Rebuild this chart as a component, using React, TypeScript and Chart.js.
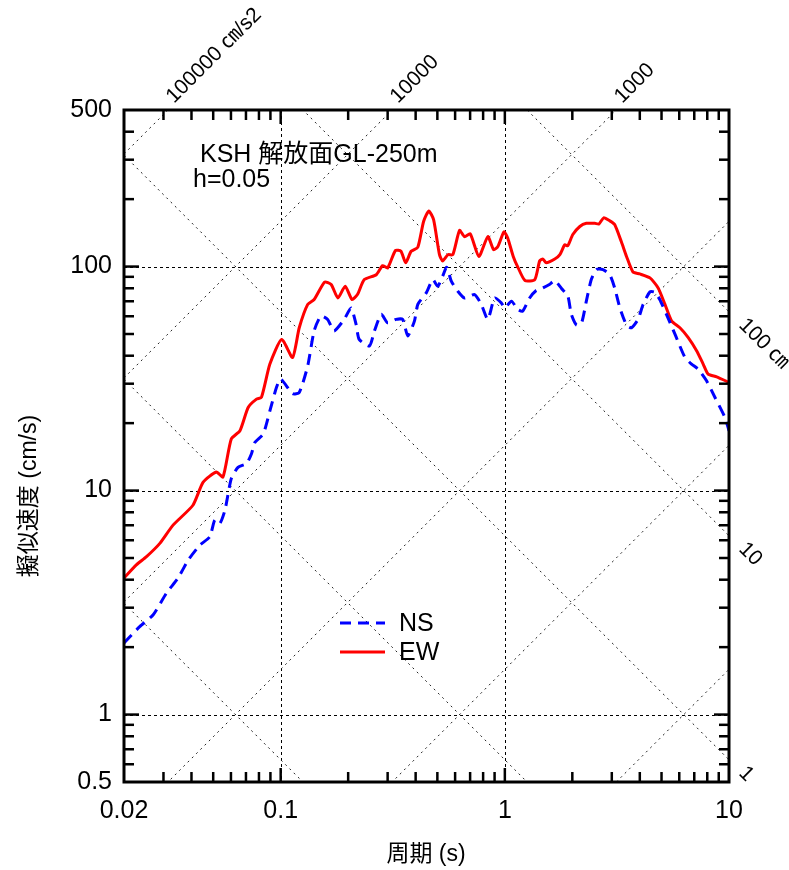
import React, { useEffect, useRef } from "react";
import { Chart, registerables } from "chart.js";

Chart.register(...registerables);

// ---- data ----
const PERIOD_NS = [0.02, 0.0235, 0.027, 0.0309, 0.0348, 0.0387, 0.0436, 0.0483, 0.0508, 0.0535, 0.0564, 0.0602, 0.0645, 0.0704, 0.0741, 0.0767, 0.0836, 0.0895, 0.0958, 0.1, 0.113, 0.121, 0.132, 0.141, 0.151, 0.162, 0.173, 0.192, 0.206, 0.217, 0.224, 0.249, 0.262, 0.281, 0.3, 0.327, 0.35, 0.369, 0.395, 0.409, 0.446, 0.477, 0.502, 0.528, 0.55, 0.577, 0.617, 0.661, 0.733, 0.785, 0.84, 0.9, 0.964, 1.0, 1.07, 1.14, 1.2, 1.29, 1.38, 1.46, 1.58, 1.67, 1.79, 1.91, 1.98, 2.09, 2.2, 2.31, 2.43, 2.56, 2.74, 2.94, 3.09, 3.26, 3.49, 3.67, 3.93, 4.14, 4.44, 4.67, 4.91, 5.26, 5.74, 6.36, 6.81, 7.29, 7.94, 8.65, 9.59, 10];
const SV_NS = [2.09, 2.47, 2.79, 3.48, 4.06, 4.9, 5.71, 6.22, 7.38, 7.13, 8.17, 11.3, 12.7, 13.2, 14.6, 16.4, 17.9, 22.7, 28.9, 31.5, 27.1, 27.4, 36.0, 51.6, 60.1, 58.1, 51.6, 58.1, 65.4, 55.2, 47.3, 44.2, 51.6, 61.2, 56.1, 58.1, 58.1, 49.0, 57.1, 67.8, 76.3, 87.5, 81.7, 90.5, 99.3, 86.1, 77.6, 72.4, 75.0, 67.8, 58.1, 72.4, 68.9, 65.4, 70.1, 64.4, 63.2, 72.4, 78.2, 79.8, 83.2, 86.6, 79.8, 73.8, 61.2, 54.8, 56.1, 70.1, 87.5, 97.0, 97.0, 92.0, 80.3, 65.4, 54.8, 53.3, 58.1, 67.8, 77.1, 76.8, 71.3, 61.2, 49.9, 39.3, 36.7, 34.8, 30.9, 26.1, 21.2, 18.5];

const PERIOD_EW = [0.02, 0.0227, 0.0252, 0.0289, 0.0331, 0.0406, 0.0451, 0.0516, 0.0553, 0.0602, 0.0658, 0.0716, 0.078, 0.0821, 0.0895, 0.101, 0.113, 0.121, 0.132, 0.141, 0.157, 0.168, 0.18, 0.194, 0.208, 0.22, 0.236, 0.267, 0.285, 0.3, 0.325, 0.344, 0.361, 0.382, 0.409, 0.434, 0.458, 0.481, 0.511, 0.528, 0.557, 0.586, 0.628, 0.661, 0.701, 0.766, 0.84, 0.891, 0.931, 0.991, 1.03, 1.09, 1.14, 1.23, 1.36, 1.43, 1.48, 1.53, 1.67, 1.76, 1.85, 1.91, 2.01, 2.16, 2.31, 2.52, 2.63, 2.76, 2.94, 3.09, 3.31, 3.49, 3.73, 4.0, 4.44, 4.83, 5.18, 5.55, 6.04, 6.58, 7.18, 7.67, 8.07, 8.81, 10];
const SV_EW = [4.07, 4.66, 5.07, 5.81, 7.01, 8.6, 10.9, 12.1, 11.5, 17.0, 18.5, 23.5, 25.6, 26.1, 36.7, 47.3, 39.3, 53.3, 67.8, 71.3, 85.3, 83.2, 72.4, 81.7, 71.3, 75.0, 87.5, 92.0, 101, 98.6, 118, 117, 104, 117, 122, 159, 177, 162, 113, 106, 113, 113, 145, 136, 140, 111, 136, 119, 123, 143, 134, 111, 100, 86.6, 87.5, 106, 108, 104, 108, 113, 125, 124, 139, 151, 156, 156, 155, 165, 160, 154, 129, 111, 94.6, 92.7, 89.0, 80.3, 67.8, 57.1, 53.3, 48.2, 42.0, 36.7, 33.1, 32.2, 30.4];

const X_TICKS = [0.02, 0.03, 0.04, 0.05, 0.06, 0.07, 0.08, 0.09, 0.1, 0.2, 0.3, 0.4, 0.5, 0.6, 0.7, 0.8, 0.9, 1, 2, 3, 4, 5, 6, 7, 8, 9, 10];
const X_LABELS = [0.02, 0.1, 1, 10];
const X_GRID = [0.1, 1];
const Y_TICKS = [0.5, 0.6, 0.7, 0.8, 0.9, 1, 2, 3, 4, 5, 6, 7, 8, 9, 10, 20, 30, 40, 50, 60, 70, 80, 90, 100, 200, 300, 400, 500];
const Y_LABELS = [0.5, 1, 10, 100, 500];
const Y_GRID = [1, 10, 100];

const ACCEL_LINES = [1, 10, 100, 1000, 10000, 100000];
const ACCEL_LABEL_VALUES = [100000, 10000, 1000];
const ACCEL_LABEL_TEXT = ["100000 ㎝/s2", "10000", "1000"];
const DISP_LINES = [0.01, 0.1, 1, 10, 100];
const DISP_LABEL_VALUES = [100, 10, 1];
const DISP_LABEL_TEXT = ["100 ㎝", "10", "1"];

const SERIES_NAMES = ["NS", "EW"];
const TITLE_LINE1 = "KSH 解放面GL-250m";
const TITLE_LINE2 = "h=0.05";
const X_TITLE = "周期 (s)";
const Y_TITLE = "擬似速度 (cm/s)";

const FAM = "'Liberation Sans Narrow', 'Liberation Sans', 'Noto Sans CJK JP', sans-serif";
const CJK = "'Liberation Sans', 'Noto Sans CJK JP', sans-serif";

const near = (a: number, b: number) => Math.abs(a - b) < 1e-9 * Math.max(1, Math.abs(b));
const isDecade = (v: number) => near(Math.log10(v), Math.round(Math.log10(v)));

const tripartite = {
  id: "tripartite",
  beforeDatasetsDraw(chart: any) {
    const { ctx, chartArea: a, scales } = chart;
    const x = scales.x, y = scales.y;
    ctx.save();
    ctx.beginPath();
    ctx.rect(a.left, a.top, a.right - a.left, a.bottom - a.top);
    ctx.clip();
    ctx.strokeStyle = "#000";
    ctx.lineWidth = 1;
    ctx.setLineDash([3, 3]);
    for (const v of X_GRID) {
      const px = Math.round(x.getPixelForValue(v)) + 0.5;
      ctx.beginPath(); ctx.moveTo(px, a.top); ctx.lineTo(px, a.bottom); ctx.stroke();
    }
    for (const v of Y_GRID) {
      const py = Math.round(y.getPixelForValue(v)) + 0.5;
      ctx.beginPath(); ctx.moveTo(a.left, py); ctx.lineTo(a.right, py); ctx.stroke();
    }
    ctx.strokeStyle = "#222";
    ctx.setLineDash([2, 4]);
    const t1 = x.min, t2 = x.max;
    for (const A of ACCEL_LINES) {
      const s1 = (A * t1) / (2 * Math.PI), s2 = (A * t2) / (2 * Math.PI);
      ctx.beginPath();
      ctx.moveTo(x.getPixelForValue(t1), y.getPixelForValue(s1));
      ctx.lineTo(x.getPixelForValue(t2), y.getPixelForValue(s2));
      ctx.stroke();
    }
    for (const D of DISP_LINES) {
      const s1 = (2 * Math.PI * D) / t1, s2 = (2 * Math.PI * D) / t2;
      ctx.beginPath();
      ctx.moveTo(x.getPixelForValue(t1), y.getPixelForValue(s1));
      ctx.lineTo(x.getPixelForValue(t2), y.getPixelForValue(s2));
      ctx.stroke();
    }
    ctx.restore();
  },
  afterDraw(chart: any) {
    const { ctx, chartArea: a, scales } = chart;
    const x = scales.x, y = scales.y;
    ctx.save();
    // tick marks (inward)
    ctx.strokeStyle = "#000";
    ctx.lineWidth = 2.5;
    ctx.setLineDash([]);
    for (const v of X_TICKS) {
      if (near(v, x.min) || near(v, x.max)) continue;
      const px = x.getPixelForValue(v);
      const len = isDecade(v) ? 14 : 10;
      ctx.beginPath(); ctx.moveTo(px, a.bottom); ctx.lineTo(px, a.bottom - len); ctx.stroke();
      ctx.beginPath(); ctx.moveTo(px, a.top); ctx.lineTo(px, a.top + len); ctx.stroke();
    }
    for (const v of Y_TICKS) {
      if (near(v, y.min) || near(v, y.max)) continue;
      const py = y.getPixelForValue(v);
      const len = isDecade(v) ? 15 : 10;
      ctx.beginPath(); ctx.moveTo(a.left, py); ctx.lineTo(a.left + len, py); ctx.stroke();
      ctx.beginPath(); ctx.moveTo(a.right, py); ctx.lineTo(a.right - len, py); ctx.stroke();
    }
    // frame
    ctx.lineWidth = 3;
    ctx.strokeRect(a.left, a.top, a.right - a.left, a.bottom - a.top);

    // acceleration labels (top)
    ctx.fillStyle = "#000";
    ctx.font = `21px ${FAM}`;
    ctx.textAlign = "left";
    ctx.textBaseline = "alphabetic";
    ACCEL_LABEL_VALUES.forEach((A, i) => {
      const t = (2 * Math.PI * y.max) / A;
      const px = x.getPixelForValue(t);
      ctx.save();
      ctx.translate(px + 6, a.top - 6);
      ctx.rotate(-Math.PI / 4);
      ctx.fillText(ACCEL_LABEL_TEXT[i], 0, 0);
      ctx.restore();
    });
    // displacement labels (right)
    DISP_LABEL_VALUES.forEach((D, i) => {
      const s = (2 * Math.PI * D) / x.max;
      const py = y.getPixelForValue(s);
      ctx.save();
      ctx.translate(a.right + 13, py + 10);
      ctx.rotate(Math.PI / 4);
      ctx.textBaseline = "middle";
      ctx.fillText(DISP_LABEL_TEXT[i], 0, 0);
      ctx.restore();
    });

    // in-plot title
    ctx.font = `25px ${FAM}`;
    ctx.textBaseline = "alphabetic";
    ctx.fillText(TITLE_LINE1, 200, 162);
    ctx.fillText(TITLE_LINE2, 193, 187);

    // legend
    const ds = chart.data.datasets;
    const rows = [623, 652];
    ds.forEach((d: any, i: number) => {
      ctx.save();
      ctx.strokeStyle = d.borderColor;
      ctx.lineWidth = d.borderWidth;
      ctx.setLineDash(d.borderDash || []);
      ctx.beginPath(); ctx.moveTo(340, rows[i]); ctx.lineTo(385, rows[i]); ctx.stroke();
      ctx.restore();
      ctx.font = `25px ${FAM}`;
      ctx.textBaseline = "middle";
      ctx.fillStyle = "#000";
      ctx.fillText(d.label, 399, rows[i] + 1);
    });

    // axis titles
    ctx.font = `23px ${CJK}`;
    ctx.textAlign = "center";
    ctx.textBaseline = "middle";
    ctx.fillText(X_TITLE, 426, 855);
    ctx.save();
    ctx.translate(30, 496);
    ctx.rotate(-Math.PI / 2);
    ctx.fillText(Y_TITLE, 0, 0);
    ctx.restore();
    ctx.restore();
  },
};

export default function App() {
  const ref = useRef<HTMLCanvasElement | null>(null);
  useEffect(() => {
    if (!ref.current) return;
    const chart = new Chart(ref.current, {
      type: "line",
      data: {
        datasets: [
          {
            label: SERIES_NAMES[0],
            data: PERIOD_NS.map((t, i) => ({ x: t, y: SV_NS[i] })),
            borderColor: "#0000ff",
            borderWidth: 3,
            borderDash: [11, 7],
            pointRadius: 0,
            fill: false,
            tension: 0.2,
          },
          {
            label: SERIES_NAMES[1],
            data: PERIOD_EW.map((t, i) => ({ x: t, y: SV_EW[i] })),
            borderColor: "#ff0000",
            borderWidth: 3,
            pointRadius: 0,
            fill: false,
            tension: 0.2,
          },
        ],
      },
      options: {
        animation: false,
        responsive: false,
        devicePixelRatio: 1,
        layout: { padding: { top: 110, right: 60, left: 0, bottom: 0 } },
        plugins: { legend: { display: false }, tooltip: { enabled: false }, title: { display: false } },
        scales: {
          x: {
            type: "logarithmic",
            min: 0.02,
            max: 10,
            afterFit: (s: any) => { s.height = 88; },
            afterBuildTicks: (s: any) => { s.ticks = X_TICKS.map((v) => ({ value: v })); },
            grid: { display: false, drawTicks: false },
            border: { display: false },
            ticks: {
              autoSkip: false,
              maxRotation: 0,
              minRotation: 0,
              padding: 14,
              color: "#000",
              font: { family: FAM, size: 25 },
              callback: (v: any) => (X_LABELS.some((l) => near(l, Number(v))) ? String(Number(v)) : ""),
            },
          },
          y: {
            type: "logarithmic",
            min: 0.5,
            max: 500,
            afterFit: (s: any) => { s.width = 124; },
            afterBuildTicks: (s: any) => { s.ticks = Y_TICKS.map((v) => ({ value: v })); },
            grid: { display: false, drawTicks: false },
            border: { display: false },
            ticks: {
              autoSkip: false,
              padding: 12,
              color: "#000",
              font: { family: FAM, size: 25 },
              callback: (v: any) => (Y_LABELS.some((l) => near(l, Number(v))) ? String(Number(v)) : ""),
            },
          },
        },
      },
      plugins: [tripartite],
    } as any);
    return () => chart.destroy();
  }, []);
  return (
    <div style={{ position: "fixed", left: 0, top: 0, width: 789, height: 870, background: "#fff" }}>
      <canvas ref={ref} width={789} height={870} style={{ display: "block", width: 789, height: 870 }} />
    </div>
  );
}
